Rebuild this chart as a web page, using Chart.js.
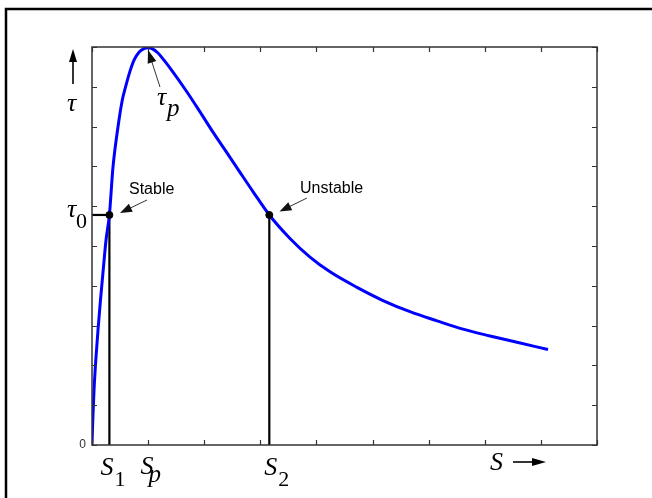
<!DOCTYPE html>
<html>
<head>
<meta charset="utf-8">
<script src="https://cdn.jsdelivr.net/npm/chart.js@4.4.1/dist/chart.umd.min.js"></script>
<style>
  html, body { margin: 0; padding: 0; background: #fff; }
  #wrap { width: 652px; height: 498px; }
</style>
</head>
<body>
<div id="wrap"><canvas id="slipChart" width="652" height="498"></canvas></div>
<script>
// slip S (tick units) and shear stress tau
const sValues = [0, 0.014, 0.036, 0.068, 0.107, 0.151, 0.2, 0.25, 0.31, 0.374, 0.463, 0.54, 0.597,
  0.668, 0.749, 0.838, 0.927, 0.998, 1.069, 1.176, 1.283, 1.444, 1.693, 1.925, 2.156, 2.406,
  2.638, 2.887, 3.16, 3.529, 3.885, 4.242, 4.723, 5.186, 5.667, 6.149, 6.612, 7.093, 7.574, 8.127];
const tauValues = [0, 0.63, 1.38, 2.14, 2.89, 3.64, 4.4, 5.15, 5.78, 6.98, 7.99, 8.67, 8.99,
  9.35, 9.67, 9.87, 9.96, 9.98, 9.96, 9.85, 9.67, 9.37, 8.87, 8.37, 7.86, 7.34,
  6.85, 6.33, 5.78, 5.19, 4.72, 4.35, 3.96, 3.63, 3.35, 3.12, 2.91, 2.74, 2.58, 2.4];

// operating points at tau0: stable S1 and unstable S2
const tau0 = 5.78;
const opSlips = [0.31, 3.16];
const peakSlip = 0.97;

const xTicks = [0, 1, 2, 3, 4, 5, 6, 7, 8, 9];
const yTicks = [0, 1, 2, 3, 4, 5, 6, 7, 8, 9, 10];

const curve = sValues.map((s, i) => ({ x: s, y: tauValues[i] }));

function arrow(ctx, x1, y1, x2, y2, len, half) {
  const a = Math.atan2(y2 - y1, x2 - x1);
  ctx.beginPath();
  ctx.moveTo(x1, y1);
  ctx.lineTo(x2 - Math.cos(a) * len * 0.8, y2 - Math.sin(a) * len * 0.8);
  ctx.stroke();
  ctx.beginPath();
  ctx.moveTo(x2, y2);
  ctx.lineTo(x2 - Math.cos(a) * len - Math.sin(a) * half, y2 - Math.sin(a) * len + Math.cos(a) * half);
  ctx.lineTo(x2 - Math.cos(a) * len + Math.sin(a) * half, y2 - Math.sin(a) * len - Math.cos(a) * half);
  ctx.closePath();
  ctx.fill();
}

const decor = {
  id: 'decor',
  afterDraw(chart) {
    const ctx = chart.ctx;
    const a = chart.chartArea;
    const xs = chart.scales.x, ys = chart.scales.y;
    ctx.save();

    // outer frame (left and top only)
    ctx.strokeStyle = '#000';
    ctx.lineWidth = 2.5;
    ctx.beginPath();
    ctx.moveTo(6, 498);
    ctx.lineTo(6, 9);
    ctx.lineTo(652, 9);
    ctx.stroke();

    // axes box with inward ticks
    ctx.strokeStyle = '#333';
    ctx.lineWidth = 1.5;
    ctx.strokeRect(a.left, a.top, a.right - a.left, a.bottom - a.top);
    ctx.lineWidth = 1.2;
    ctx.beginPath();
    xTicks.forEach(v => {
      const px = Math.round(xs.getPixelForValue(v)) + 0.5;
      ctx.moveTo(px, a.bottom); ctx.lineTo(px, a.bottom - 5);
      ctx.moveTo(px, a.top); ctx.lineTo(px, a.top + 5);
    });
    yTicks.forEach(v => {
      const py = Math.round(ys.getPixelForValue(v)) + 0.5;
      ctx.moveTo(a.left, py); ctx.lineTo(a.left + 5, py);
      ctx.moveTo(a.right, py); ctx.lineTo(a.right - 5, py);
    });
    ctx.stroke();

    // "0" tick label
    ctx.fillStyle = '#333';
    ctx.font = '12px "Liberation Sans", Arial, sans-serif';
    ctx.textAlign = 'right';
    ctx.textBaseline = 'middle';
    ctx.fillText('0', a.left - 6, ys.getPixelForValue(0));

    // math labels
    ctx.fillStyle = '#000';
    ctx.textAlign = 'left';
    ctx.textBaseline = 'alphabetic';
    const it = 'italic 26px "Liberation Serif", "Times New Roman", serif';
    const itSub = 'italic 25px "Liberation Serif", "Times New Roman", serif';
    const up = '22px "Liberation Serif", "Times New Roman", serif';
    function sub(main, s, x, y, sx, sy, subItalic) {
      ctx.font = it; ctx.fillText(main, x, y);
      ctx.font = subItalic ? itSub : up; ctx.fillText(s, sx, sy);
    }
    ctx.font = it;
    ctx.fillText('\u03c4', 67, 111);
    sub('\u03c4', '0', 67, 217, 76, 228, false);
    sub('\u03c4', 'p', 157, 105, 167, 116, true);

    const s1 = xs.getPixelForValue(opSlips[0]);
    const s2 = xs.getPixelForValue(opSlips[1]);
    const sp = xs.getPixelForValue(peakSlip);
    sub('S', '1', s1 - 9, 475, s1 + 5, 486, false);
    sub('S', 'p', sp - 6, 474, sp + 2, 482, true);
    sub('S', '2', s2 - 5, 475, s2 + 9, 486, false);
    ctx.font = it;
    ctx.fillText('S', 490, 470);

    ctx.font = '16px "Liberation Sans", Arial, sans-serif';
    ctx.fillText('Stable', 129, 194);
    ctx.fillText('Unstable', 300, 193);

    // arrows
    ctx.strokeStyle = '#000';
    ctx.fillStyle = '#000';
    ctx.lineWidth = 1.6;
    arrow(ctx, 73, 84, 73, 49, 13, 4);
    arrow(ctx, 513, 462, 546, 462, 14, 4);
    ctx.lineWidth = 1;
    ctx.strokeStyle = '#333';
    ctx.fillStyle = '#111';
    arrow(ctx, 160, 87, 148, 50, 13, 4.5);
    arrow(ctx, 147, 200, 120, 213, 12, 4.5);
    arrow(ctx, 307, 198, 279.5, 211.5, 12, 4.5);
    ctx.restore();
  }
};

new Chart(document.getElementById('slipChart'), {
  type: 'line',
  data: {
    datasets: [
      {
        data: opSlips.map(s => ({ x: s, y: tau0 })),
        showLine: false,
        pointRadius: 3.5,
        pointBackgroundColor: '#000',
        pointBorderColor: '#000',
        order: 0
      },
      {
        data: curve,
        borderColor: '#0000ff',
        borderWidth: 3,
        pointRadius: 0,
        cubicInterpolationMode: 'monotone',
        order: 1
      },
      {
        data: [{ x: 0, y: tau0 }, { x: opSlips[0], y: tau0 }],
        borderColor: '#000', borderWidth: 2.2, pointRadius: 0, order: 2
      },
      {
        data: [{ x: opSlips[0], y: 0 }, { x: opSlips[0], y: tau0 }],
        borderColor: '#000', borderWidth: 2.2, pointRadius: 0, order: 2
      },
      {
        data: [{ x: opSlips[1], y: 0 }, { x: opSlips[1], y: tau0 }],
        borderColor: '#000', borderWidth: 2.2, pointRadius: 0, order: 2
      }
    ]
  },
  options: {
    responsive: false,
    animation: false,
    layout: { padding: { left: 92, top: 47, right: 55, bottom: 53 } },
    plugins: {
      legend: { display: false },
      tooltip: { enabled: false }
    },
    scales: {
      x: { type: 'linear', min: 0, max: 9, display: false },
      y: { type: 'linear', min: 0, max: 10, display: false }
    }
  },
  plugins: [decor]
});
</script>
</body>
</html>
